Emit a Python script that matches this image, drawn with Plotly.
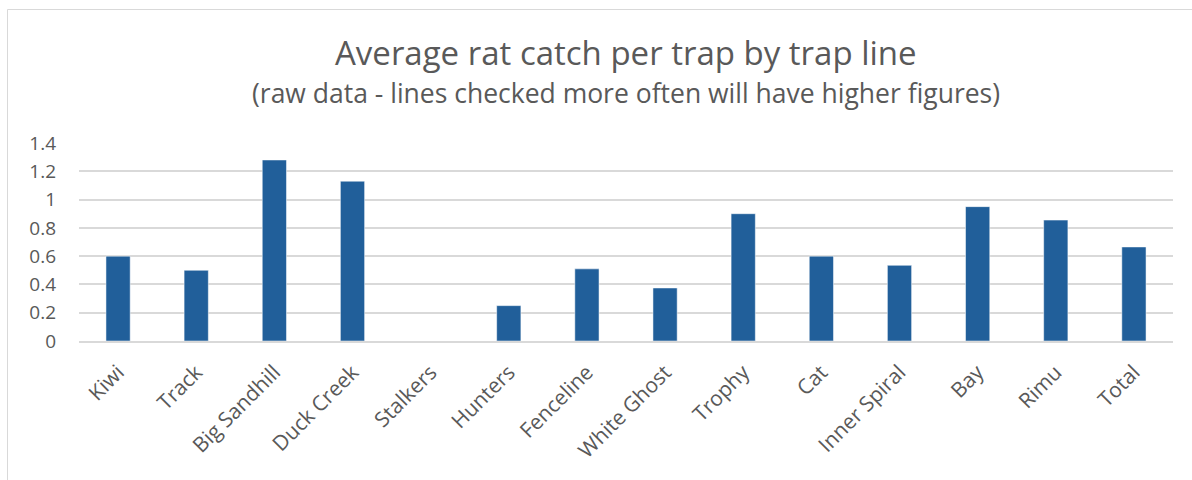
import plotly.graph_objects as go

categories = ["Kiwi", "Track", "Big Sandhill", "Duck Creek", "Stalkers", "Hunters",
              "Fenceline", "White Ghost", "Trophy", "Cat", "Inner Spiral", "Bay", "Rimu", "Total"]
values = [0.60, 0.50, 1.28, 1.13, 0.0, 0.25, 0.51, 0.375, 0.90, 0.60, 0.535, 0.95, 0.855, 0.665]
y_ticks = [0, 0.2, 0.4, 0.6, 0.8, 1, 1.2, 1.4]
y_tick_labels = ["0", "0.2", "0.4", "0.6", "0.8", "1", "1.2", "1.4"]

title = "Average rat catch per trap by trap line"
subtitle = "(raw data - lines checked more often will have higher figures)"

FONT = "Open Sans"
GREY = "#595959"

fig = go.Figure(go.Bar(
    x=categories, y=values,
    marker=dict(color="#215f9a", line=dict(color="#ffffff", width=0.5)),
    width=0.31,
))

W, H = 1192, 480
L, R, T, B = 79, 19, 143, 139
pw, ph = W - L - R, H - T - B

def py(pix):
    return (H - B - pix) / ph

def px(pix):
    return (pix - L) / pw

fig.update_layout(
    width=W, height=H,
    margin=dict(l=L, r=R, t=T, b=B),
    plot_bgcolor="white", paper_bgcolor="white",
    showlegend=False,
    xaxis=dict(tickangle=-45, tickfont=dict(family=FONT, size=21, color=GREY),
               showgrid=False, showline=True, linecolor="#d9d9d9", linewidth=1.5,
               ticks="", ticklen=0, ticklabelstandoff=9),
    yaxis=dict(range=[0, 1.4], tickvals=y_ticks, ticktext=y_tick_labels,
               tickfont=dict(family=FONT, size=19, color=GREY),
               showgrid=True, gridcolor="#d9d9d9", gridwidth=1.5,
               zeroline=False, ticks="", ticklabelstandoff=22),
    annotations=[
        dict(text=title, x=0.5, xref="paper", xanchor="center",
             y=py(53), yref="paper", yanchor="middle", showarrow=False,
             font=dict(family=FONT, size=33, color=GREY)),
        dict(text=subtitle, x=0.5, xref="paper", xanchor="center",
             y=py(93), yref="paper", yanchor="middle", showarrow=False,
             font=dict(family=FONT, size=26.5, color=GREY)),
    ],
    shapes=[
        dict(type="rect", xref="paper", yref="paper",
             x0=px(7.5), x1=px(1250), y0=py(9.5), y1=py(600),
             line=dict(color="#d9d9d9", width=1), layer="below"),
    ],
)
fig.update_xaxes(range=[-0.5, len(categories) - 0.5])
fig.write_html("out.html")
